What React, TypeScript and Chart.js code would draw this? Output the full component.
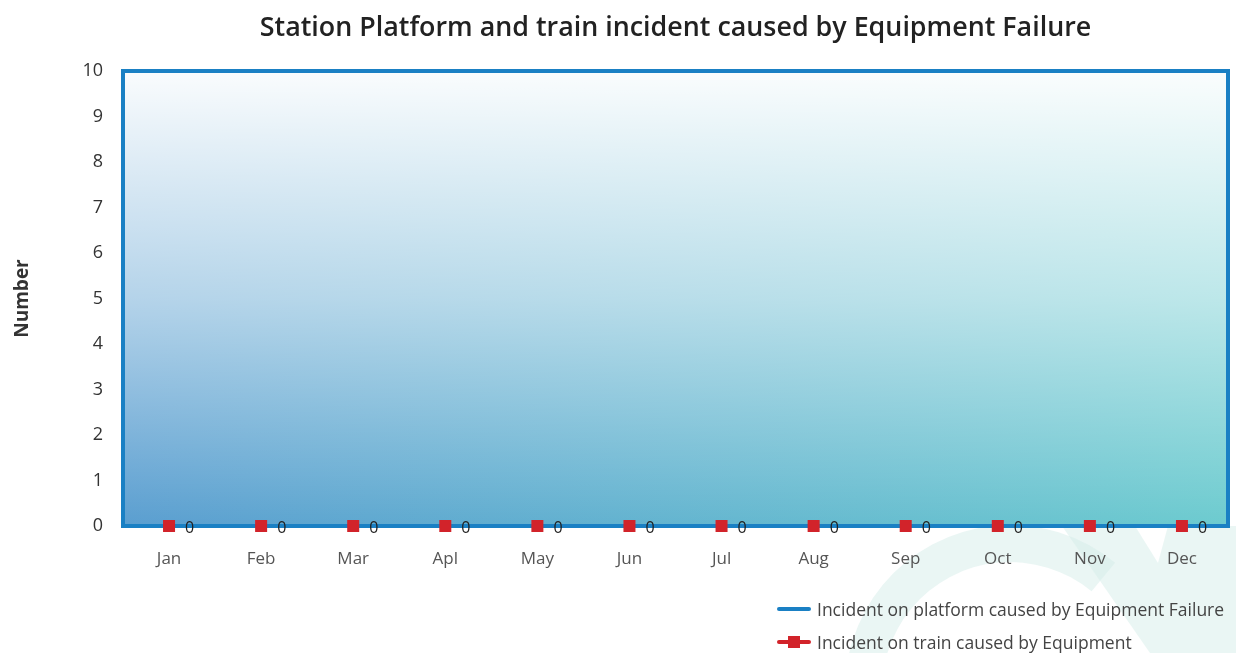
import React, { useEffect, useRef } from "react";
import { Chart, registerables } from "chart.js";

Chart.register(...registerables);

const months = ["Jan", "Feb", "Mar", "Apl", "May", "Jun", "Jul", "Aug", "Sep", "Oct", "Nov", "Dec"];
const platformIncidents = [0, 0, 0, 0, 0, 0, 0, 0, 0, 0, 0, 0];
const trainIncidents = [0, 0, 0, 0, 0, 0, 0, 0, 0, 0, 0, 0];
const yTicks = [0, 1, 2, 3, 4, 5, 6, 7, 8, 9, 10];
const titleText = "Station Platform and train incident caused by Equipment Failure";

const FONT = "'Open Sans', 'Noto Sans', sans-serif";

const bgPlugin = {
  id: "bgPlugin",
  beforeDraw(chart: any) {
    const { ctx, chartArea } = chart;
    const { left, top, right, bottom } = chartArea;
    ctx.save();
    // faint watermark
    const pale = "rgba(214, 238, 233, 0.5)";
    ctx.fillStyle = pale;
    ctx.beginPath();
    ctx.arc(1010, 690, 165, Math.PI * 0.97, Math.PI * 1.72);
    ctx.arc(1010, 690, 128, Math.PI * 1.72, Math.PI * 0.97, true);
    ctx.closePath();
    ctx.fill();
    ctx.beginPath();
    ctx.moveTo(1062, 526);
    ctx.lineTo(1236, 526);
    ctx.lineTo(1236, 653);
    ctx.lineTo(1150, 653);
    ctx.closePath();
    ctx.fill();
    ctx.fillStyle = "#ffffff";
    ctx.beginPath();
    ctx.moveTo(1135, 526);
    ctx.lineTo(1168, 526);
    ctx.lineTo(1158, 563);
    ctx.closePath();
    ctx.fill();
    // plot background: horizontal colour gradient
    const gh = ctx.createLinearGradient(left, 0, right, 0);
    gh.addColorStop(0, "#5a9ed0");
    gh.addColorStop(1, "#6ccbcf");
    ctx.fillStyle = gh;
    ctx.fillRect(left, top, right - left, bottom - top);
    // vertical white fade
    const gv = ctx.createLinearGradient(0, top, 0, bottom);
    gv.addColorStop(0, "rgba(255,255,255,0.97)");
    gv.addColorStop(0.5, "rgba(255,255,255,0.55)");
    gv.addColorStop(1, "rgba(255,255,255,0)");
    ctx.fillStyle = gv;
    ctx.fillRect(left, top, right - left, bottom - top);
    // title centred on plot area
    let size = 26;
    ctx.font = `600 ${size}px ${FONT}`;
    const w = ctx.measureText(titleText).width;
    size = size * (832 / w);
    ctx.font = `600 ${size}px ${FONT}`;
    ctx.fillStyle = "#222";
    ctx.textAlign = "center";
    ctx.textBaseline = "middle";
    ctx.fillText(titleText, (left + right) / 2, 28);
    ctx.restore();
  },
  afterDatasetsDraw(chart: any) {
    const { ctx, chartArea } = chart;
    const { left, top, right, bottom } = chartArea;
    ctx.save();
    ctx.strokeStyle = "#1a80c4";
    ctx.lineWidth = 4;
    ctx.strokeRect(left, top, right - left, bottom - top);
    const meta = chart.getDatasetMeta(1);
    meta.data.forEach((pt: any, i: number) => {
      ctx.fillStyle = "#d2232a";
      ctx.fillRect(pt.x - 6, pt.y - 6, 12, 12);
      ctx.fillStyle = "#222";
      ctx.font = `16px ${FONT}`;
      ctx.textAlign = "left";
      ctx.textBaseline = "middle";
      ctx.fillText(String(trainIncidents[i]), pt.x + 16, pt.y + 2);
    });
    ctx.restore();
  },
};

export default function App() {
  const ref = useRef<HTMLCanvasElement>(null);
  useEffect(() => {
    if (!ref.current) return;
    const chart = new Chart(ref.current, {
      type: "line",
      data: {
        labels: months,
        datasets: [
          {
            label: "Incident on platform caused by Equipment Failure",
            data: platformIncidents,
            borderColor: "#1a80c4",
            borderWidth: 3,
            pointRadius: 0,
          },
          {
            label: "Incident on train caused by Equipment",
            data: trainIncidents,
            borderColor: "#d2232a",
            backgroundColor: "#d2232a",
            showLine: false,
            pointRadius: 0,
          },
        ],
      },
      options: {
        animation: false,
        responsive: false,
        layout: { padding: { left: 0, right: 8, top: 71, bottom: 0 } },
        plugins: {
          legend: { display: false },
          tooltip: { enabled: false },
          title: { display: false },
        },
        scales: {
          x: {
            offset: true,
            grid: { display: false, drawTicks: false },
            border: { display: false },
            ticks: { color: "#555", font: { family: FONT, size: 17 }, padding: 23 },
            afterFit(scale: any) {
              scale.height = 127;
            },
          },
          y: {
            min: 0,
            max: 10,
            afterBuildTicks(scale: any) {
              scale.ticks = yTicks.map((v) => ({ value: v }));
            },
            grid: { display: false, drawTicks: false },
            border: { display: false },
            ticks: { color: "#333", font: { family: FONT, size: 18 }, padding: 20 },
            title: {
              display: true,
              text: "Number",
              color: "#333",
              font: { family: FONT, size: 19, weight: "bold" },
              padding: { top: 11, bottom: 0 },
            },
            afterFit(scale: any) {
              scale.width = 123;
            },
          },
        },
      },
      plugins: [bgPlugin],
    });
    return () => chart.destroy();
  }, []);

  const legendText: React.CSSProperties = {
    fontFamily: FONT,
    fontSize: 17.5,
    color: "#444",
    marginLeft: 6,
    whiteSpace: "nowrap",
  };

  return (
    <div style={{ position: "fixed", left: 0, top: 0, width: 1236, height: 653, background: "#fff" }}>
      <canvas ref={ref} width={1236} height={653} style={{ display: "block" }} />
      <div style={{ position: "absolute", left: 777, top: 597 }}>
        <div style={{ display: "flex", alignItems: "center", height: 24 }}>
          <span style={{ display: "inline-block", width: 34, height: 4, background: "#1a80c4", borderRadius: 2 }} />
          <span style={legendText}>Incident on platform caused by Equipment Failure</span>
        </div>
        <div style={{ display: "flex", alignItems: "center", height: 24, marginTop: 9 }}>
          <span style={{ position: "relative", display: "inline-block", width: 34, height: 12 }}>
            <span style={{ position: "absolute", left: 0, top: 4, width: 34, height: 4, background: "#d2232a", borderRadius: 2 }} />
            <span style={{ position: "absolute", left: 11, top: 0, width: 12, height: 12, background: "#d2232a" }} />
          </span>
          <span style={legendText}>Incident on train caused by Equipment</span>
        </div>
      </div>
    </div>
  );
}
